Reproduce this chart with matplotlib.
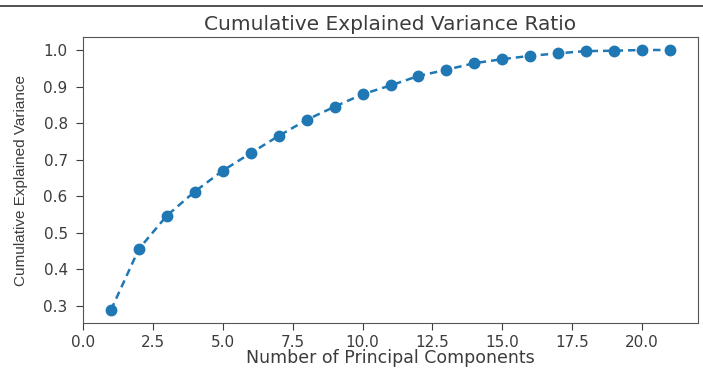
import matplotlib.pyplot as plt
from matplotlib.lines import Line2D

# Cumulative explained variance per number of principal components
components = list(range(1, 22))
cum_variance = [0.289, 0.456, 0.547, 0.613, 0.670, 0.718, 0.765, 0.809, 0.845,
                0.879, 0.903, 0.929, 0.946, 0.964, 0.975, 0.984, 0.991, 0.997,
                0.998, 1.000, 1.000]

title = "Cumulative Explained Variance Ratio"
x_label = "Number of Principal Components"
y_label = "Cumulative Explained Variance"

text_color = "#3c3c3c"

fig = plt.figure(figsize=(7.03, 3.69), dpi=100)
ax = fig.add_axes([83 / 703, 1 - 323 / 369, (698 - 83) / 703, (323 - 37) / 369])

ax.plot(components, cum_variance, marker="o", linestyle="--", color="#1f77b4",
        markersize=7.5, linewidth=1.8, dashes=(3, 2))

ax.set_title(title, fontsize=14.5, color=text_color, pad=5)
ax.set_xlabel(x_label, fontsize=12.5, color=text_color, labelpad=-0.5)
ax.set_ylabel(y_label, fontsize=11, color=text_color,
              family=["Liberation Sans", "DejaVu Sans"])
ax.yaxis.set_label_coords(-55 / 615, 0.5)

ax.tick_params(labelsize=11, colors=text_color, length=5)
ax.tick_params(axis="y", pad=6)
for spine in ax.spines.values():
    spine.set_color("#555555")

# thin dark border left over at the top of the screenshot
fig.add_artist(Line2D([0, 1], [1 - 6 / 369, 1 - 6 / 369], transform=fig.transFigure,
                      color="#333333", linewidth=1.2))

fig.savefig("out.png", dpi=100)
